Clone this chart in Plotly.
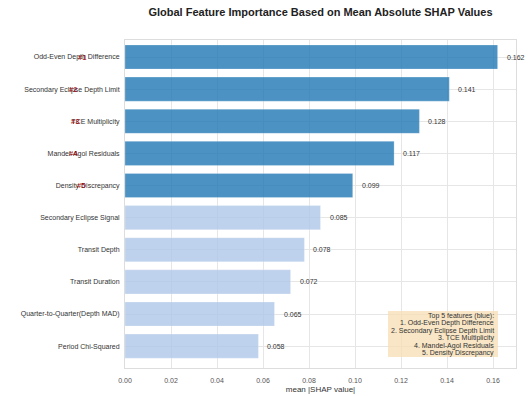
import plotly.graph_objects as go

features = [
    "Odd-Even Depth Difference",
    "Secondary Eclipse Depth Limit",
    "TCE Multiplicity",
    "Mandel-Agol Residuals",
    "Density Discrepancy",
    "Secondary Eclipse Signal",
    "Transit Depth",
    "Transit Duration",
    "Quarter-to-Quarter(Depth MAD)",
    "Period Chi-Squared",
]
importance = [0.162, 0.141, 0.128, 0.117, 0.099, 0.085, 0.078, 0.072, 0.065, 0.058]
top_n = 5
rank_labels = ["#1", "#2", "#3", "#4", "#5"]
x_ticks = [0.00, 0.02, 0.04, 0.06, 0.08, 0.10, 0.12, 0.14, 0.16]

W, H = 531, 396
px_left, px_right, px_top, px_bottom = 125, 516, 40, 368  # plot area in px
ml, mt = px_left, px_top
pw, ph = px_right - px_left, px_bottom - px_top
mr = W - ml - pw
mb = H - mt - ph

rank_px = [82, 73, 75, 73, 81]  # px x-centers of rank markers


def paper_x(px):
    return (px - px_left) / pw


def paper_y(py):
    return (px_bottom - py) / ph


dark = "rgba(31,119,180,0.8)"
light = "rgba(174,199,232,0.8)"
colors = [dark if i < top_n else light for i in range(len(features))]
n = len(features)
ypos = list(range(n))

fig = go.Figure()
fig.add_trace(go.Bar(
    x=importance, y=ypos, orientation="h", width=0.75,
    marker=dict(color=colors, line=dict(color="rgba(255,255,255,0.4)", width=0.6)),
    hoverinfo="skip", showlegend=False,
))

font_fam = "Liberation Sans, Arial, sans-serif"
ann = []
for i, v in enumerate(importance):
    ann.append(dict(x=v, y=i, xref="x", yref="y", text=f"{v:.3f}", showarrow=False,
                    xanchor="left", xshift=7, font=dict(size=7, color="#333", family=font_fam)))
for i, lab in enumerate(rank_labels):
    ann.append(dict(x=paper_x(rank_px[i]), y=i, xref="paper", yref="y", text=f"<b>{lab}</b>",
                    showarrow=False, xanchor="center",
                    font=dict(size=7.5, color="rgba(160,0,0,0.85)", family=font_fam)))

box_lines = ["Top 5 features (blue):"] + [f"{k+1}. {features[k]}" for k in range(top_n)]
box_l, box_r, box_t, box_b = 388, 498, 311, 357
line_y0, line_dy = 315.5, 7.5
for j, line in enumerate(box_lines):
    ann.append(dict(x=paper_x(box_r - 2), y=paper_y(line_y0 + j * line_dy), xref="paper", yref="paper",
                    text=line, showarrow=False, xanchor="right", yanchor="middle",
                    font=dict(size=7, color="#333", family=font_fam)))

shapes = [dict(type="rect", xref="paper", yref="paper",
               x0=paper_x(box_l), x1=paper_x(box_r), y0=paper_y(box_b), y1=paper_y(box_t),
               fillcolor="rgba(245,222,179,0.75)", line=dict(width=0), layer="above")]

fig.update_layout(
    width=W, height=H,
    margin=dict(l=ml, r=mr, t=mt, b=mb, autoexpand=False),
    paper_bgcolor="white", plot_bgcolor="white",
    title=dict(text="<b>Global Feature Importance Based on Mean Absolute SHAP Values</b>",
               x=(ml + pw / 2) / W, xanchor="center", y=1 - 12 / H, yanchor="middle",
               font=dict(size=11, color="#222", family=font_fam)),
    xaxis=dict(range=[0, 0.170], tickvals=x_ticks, ticktext=[f"{t:.2f}" for t in x_ticks],
               automargin=False,
               showgrid=True, gridcolor="#e6e6e6", gridwidth=0.8, zeroline=False,
               showline=True, linecolor="#dddddd", mirror=True, ticks="", ticklabelstandoff=6,
               tickfont=dict(size=7, color="#555", family=font_fam),
               title=dict(text="mean |SHAP value|", standoff=2,
                          font=dict(size=8, color="#333", family=font_fam))),
    yaxis=dict(range=[n - 1 + 0.68, -0.53], tickvals=ypos, ticktext=features,
               automargin=False,
               showgrid=True, gridcolor="#e6e6e6", gridwidth=0.8, zeroline=False,
               showline=True, linecolor="#dddddd", mirror=True, ticks="", ticklabelstandoff=3,
               tickfont=dict(size=7, color="#333", family=font_fam)),
    annotations=ann,
    shapes=shapes,
)

fig.write_html("out.html", config={"displayModeBar": False},
               post_script="document.body.style.margin='0';document.body.style.overflow='hidden';")
